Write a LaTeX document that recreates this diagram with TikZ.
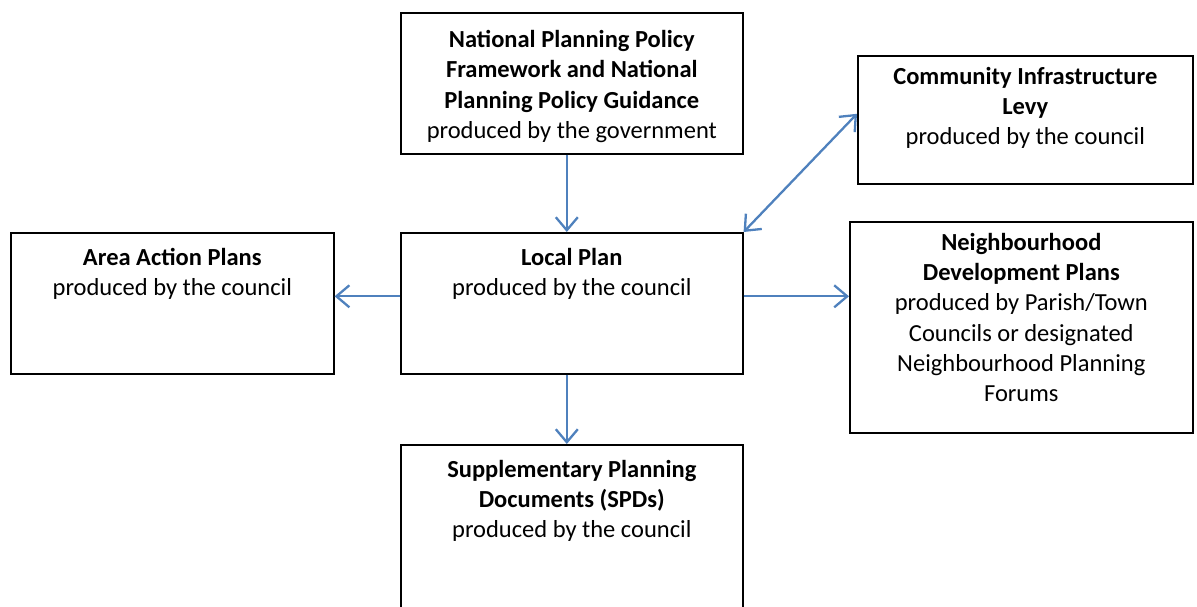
\documentclass[tikz,border=0pt]{standalone}
\usepackage{fontspec}
\setmainfont{Carlito}
\usetikzlibrary{arrows.meta,positioning}
\definecolor{linkblue}{RGB}{79,129,189}

\begin{document}
\begin{tikzpicture}[>={Straight Barb[length=13pt,width=22pt]},
                box/.style={draw,line width=1.6pt,rectangle,anchor=north west,inner sep=0pt},
                txt/.style={align=center,inner sep=0pt,font=\fontsize{24.5}{30.3}\selectfont},
                flow/.style={draw=linkblue,line width=2.3pt}]

  \useasboundingbox (0,0) rectangle (1197pt,-607pt);

  % boxes
  \node[box,minimum width=342pt,minimum height=141pt] (nppf) at (400pt,-12pt) {};
  \node[box,minimum width=335pt,minimum height=128pt] (cil) at (857pt,-55pt) {};
  \node[box,minimum width=323pt,minimum height=141pt] (aap) at (10pt,-232pt) {};
  \node[box,minimum width=342pt,minimum height=141pt] (local) at (400pt,-232pt) {};
  \node[box,minimum width=343pt,minimum height=211pt] (ndp) at (849pt,-221pt) {};
  \node[box,minimum width=342pt,minimum height=200pt] (spd) at (400pt,-444pt) {};

  % texts
  \node[txt] (nppf-txt) [below=18pt of nppf.north]
    {\textbf{National Planning Policy}\\\textbf{Framework and National}\\
     \textbf{Planning Policy Guidance}\\produced by the government};
  \node[txt] (cil-txt) [below=12pt of cil.north]
    {\textbf{Community Infrastructure}\\\textbf{Levy}\\produced by the council};
  \node[txt] (aap-txt) [below=16pt of aap.north]
    {\textbf{Area Action Plans}\\produced by the council};
  \node[txt] (local-txt) [below=16pt of local.north]
    {\textbf{Local Plan}\\produced by the council};
  \node[txt] (ndp-txt) [below=12pt of ndp.north]
    {\textbf{Neighbourhood}\\\textbf{Development Plans}\\produced by Parish/Town\\
     Councils or designated\\Neighbourhood Planning\\Forums};
  \node[txt] (spd-txt) [below=16pt of spd.north]
    {\textbf{Supplementary Planning}\\\textbf{Documents (SPDs)}\\produced by the council};

  % arrows
  \draw[flow,->] ([xshift=-5pt]nppf.south) -- ([xshift=-5pt]local.north);
  \draw[flow,->] ([yshift=7pt]local.west) -- ([yshift=7pt]local.west -| aap.east);
  \draw[flow,->] ([yshift=7pt]local.east) -- ([yshift=7pt]local.east -| ndp.west);
  \draw[flow,->] ([xshift=-5pt]local.south) -- ([xshift=-5pt]spd.north);
  \draw[flow,<->] (local.north east) -- ([yshift=6pt]cil.west);
\end{tikzpicture}
\end{document}
